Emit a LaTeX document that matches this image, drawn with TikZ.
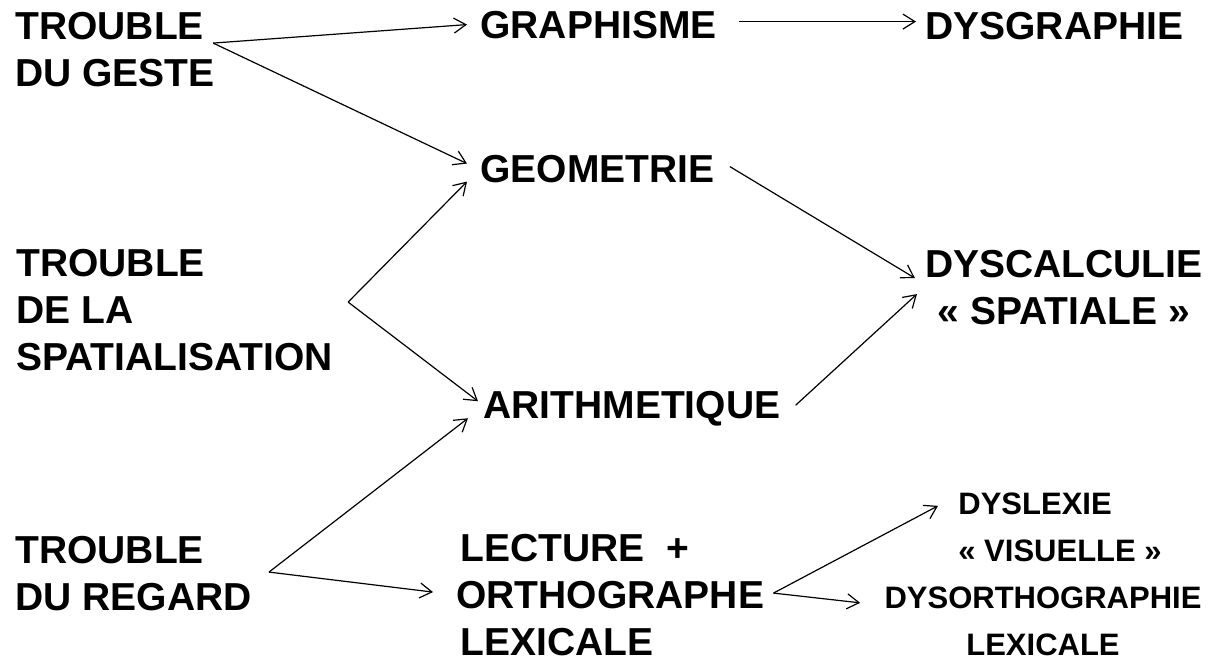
\documentclass[tikz,border=0pt]{standalone}
\usepackage{fontspec}
\setmainfont{Liberation Sans}
\usetikzlibrary{arrows.meta}

\begin{document}
\begin{tikzpicture}[
    x=0.5pt, y=-0.5pt,
    big/.style={font=\fontsize{19.5}{23.5}\selectfont\bfseries, inner sep=0pt, align=left, anchor=base west},
    small/.style={font=\fontsize{15.5}{23.5}\selectfont\bfseries, inner sep=0pt},
    arr/.style={line width=0.6pt, -{Straight Barb[length=6pt,width=7.5pt]}}
]
\useasboundingbox (0,0) rectangle (1209,661);

% causes (base = last line)
\node[big] (geste) at (15,86) {TROUBLE\\DU GESTE};
\node[big] (spatial) at (16,370) {TROUBLE\\DE LA\\SPATIALISATION};
\node[big] (regard) at (15,610) {TROUBLE\\DU REGARD};

% domains
\node[big] (graph) at (480,38) {GRAPHISME};
\node[big] (geo) at (480,182) {GEOMETRIE};
\node[big] (arith) at (483,418) {ARITHMETIQUE};
\node[big] (lect) at (456,655) {\hspace{2pt}LECTURE\ \ +\\ORTHOGRAPHE\\\hspace{2pt}LEXICALE};

% troubles
\node[big] (dysgraph) at (925,39) {DYSGRAPHIE};
\node[big, align=center, anchor=base] (dyscalc) at (1064,324) {DYSCALCULIE\\« SPATIALE »};
\node[small, align=left, anchor=base west] (dyslex) at (958,561) {DYSLEXIE\\« VISUELLE »};
\node[small, align=center, anchor=base] (dysortho) at (1043,655) {DYSORTHOGRAPHIE\\LEXICALE};

\draw[arr] ([shift={(-1pt,3pt)}]geste.east) -- ([xshift=-6.5pt]graph.west);
\draw[arr] ([shift={(-1pt,3pt)}]geste.east) -- ([shift={(-6.5pt,2.5pt)}]geo.west);
\draw[arr] ([shift={(11pt,1.5pt)}]graph.east) -- ([shift={(-4.5pt,2pt)}]dysgraph.west);

\draw[arr] ([shift={(7.5pt,3.75pt)}]spatial.east) -- ([shift={(-6.5pt,-6.5pt)}]geo.west);
\draw[arr] ([shift={(7.5pt,3.75pt)}]spatial.east) -- ([shift={(-2.5pt,3.5pt)}]arith.west);

\draw[arr] ([shift={(7.5pt,1pt)}]geo.east) -- ([shift={(-5pt,4.5pt)}]dyscalc.west);
\draw[arr] ([shift={(7.5pt,1.5pt)}]arith.east) -- ([shift={(-4pt,-3.5pt)}]dyscalc.west);

\draw[arr] ([shift={(8.5pt,0.5pt)}]regard.east) -- ([shift={(-7.5pt,-5pt)}]arith.west);
\draw[arr] ([shift={(8.5pt,0.5pt)}]regard.east) -- ([shift={(-11.5pt,1.25pt)}]lect.west);

\draw[arr] ([shift={(4.5pt,0.75pt)}]lect.east) -- ([shift={(-10pt,10.5pt)}]dyslex.west);
\draw[arr] ([shift={(4.5pt,0.75pt)}]lect.east) -- ([shift={(-12pt,9pt)}]dysortho.west);

\end{tikzpicture}
\end{document}
